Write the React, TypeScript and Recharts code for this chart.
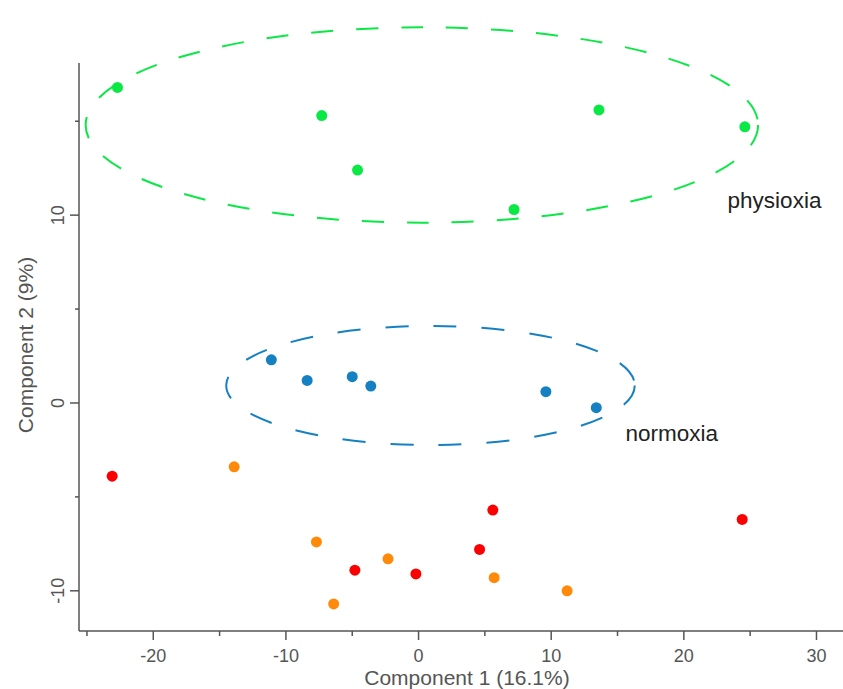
import { ReferenceArea, ReferenceDot, Scatter, ScatterChart, XAxis, YAxis } from 'recharts';

// Axis ticks every 5; only multiples of 10 get a number.
const X_TICKS = [-25, -20, -15, -10, -5, 0, 5, 10, 15, 20, 25, 30];
const Y_TICKS = [-10, -5, 0, 5, 10, 15];
const X_DOMAIN = [-25.6, 32.0];
const Y_DOMAIN = [-12.14, 18.1];

// Component scores, one pair of arrays per group.
const PHYSIOXIA_X = [-22.7, -7.3, -4.6, 7.2, 13.6, 24.6];
const PHYSIOXIA_Y = [16.8, 15.3, 12.4, 10.3, 15.6, 14.7];
const NORMOXIA_X = [-11.1, -8.4, -5.0, -3.6, 9.6, 13.4];
const NORMOXIA_Y = [2.3, 1.2, 1.4, 0.9, 0.6, -0.25];
const RED_X = [-23.1, -4.8, -0.2, 4.6, 5.6, 24.4];
const RED_Y = [-3.9, -8.9, -9.1, -7.8, -5.7, -6.2];
const ORANGE_X = [-13.9, -7.7, -6.4, -2.3, 5.7, 11.2];
const ORANGE_Y = [-3.4, -7.4, -10.7, -8.3, -9.3, -10.0];

// Group ellipses as bounding boxes in data units: [x1, x2, y1, y2].
const PHYSIOXIA_BOX = [-25.1, 25.6, 9.6, 20.0];
const NORMOXIA_BOX = [-14.5, 16.3, -2.24, 4.1];

// Group name tags: [x, y] of the left/middle of the text.
const PHYSIOXIA_TAG = [23.3, 10.8];
const NORMOXIA_TAG = [15.6, -1.6];

const GREEN = '#0ae845';
const BLUE = '#1580c2';
const RED = '#fa0000';
const ORANGE = '#ff8a0a';
const AXIS = '#555';
const FONT = '"Liberation Sans", Arial, sans-serif';

const zip = (xs: number[], ys: number[]) => xs.map((x, i) => ({ x, y: ys[i] }));

function Dot({ cx, cy, fill }: any) {
  return <circle cx={cx} cy={cy} r={5.5} fill={fill} />;
}

function XTick({ x, y, payload }: any) {
  const major = payload.value % 10 === 0;
  return (
    <g>
      <line x1={x} x2={x} y1={y} y2={y + (major ? 9 : 5)} stroke={AXIS} strokeWidth={1.5} />
      {major && (
        <text x={x} y={y + 25} textAnchor="middle" dominantBaseline="central" fill={AXIS} fontSize={18} fontFamily={FONT}>
          {payload.value}
        </text>
      )}
    </g>
  );
}

function YTick({ x, y, payload }: any) {
  const major = payload.value % 10 === 0;
  const tx = x - 21;
  return (
    <g>
      <line x1={x - (major ? 9 : 4)} x2={x} y1={y} y2={y} stroke={AXIS} strokeWidth={1.5} />
      {major && (
        <text
          x={tx}
          y={y}
          transform={`rotate(-90 ${tx} ${y})`}
          textAnchor="middle"
          dominantBaseline="central"
          fill={AXIS}
          fontSize={18}
          fontFamily={FONT}
        >
          {payload.value}
        </text>
      )}
    </g>
  );
}

function ellipse(color: string, dash: string) {
  return ({ x, y, width, height }: any) => (
    <ellipse
      cx={x + width / 2}
      cy={y + height / 2}
      rx={Math.abs(width) / 2}
      ry={Math.abs(height) / 2}
      fill="none"
      stroke={color}
      strokeWidth={2}
      strokeDasharray={dash}
    />
  );
}

function tag(text: string) {
  return ({ cx, cy }: any) => (
    <text x={cx} y={cy} dominantBaseline="central" fill="#222" fontSize={22.5} fontFamily={FONT}>
      {text}
    </text>
  );
}

export default function App() {
  return (
    <div style={{ position: 'absolute', left: 0, top: 0, background: '#fff' }}>
      <ScatterChart width={843} height={689} margin={{ top: 63, right: 0, bottom: 0, left: 0 }}>
        <XAxis
          type="number"
          dataKey="x"
          domain={X_DOMAIN}
          ticks={X_TICKS}
          allowDataOverflow
          height={58}
          tickSize={0}
          tickMargin={0}
          tickLine={false}
          tick={<XTick />}
          interval={0}
          axisLine={{ stroke: AXIS, strokeWidth: 1.5 }}
          label={{
            content: (p: any) => {
              const vb = p.viewBox || { x: 79, y: 631, width: 764, height: 58 };
              return (
                <text x={vb.x + vb.width / 2 + 6} y={vb.y + 46} textAnchor="middle" dominantBaseline="central" fill={AXIS} fontSize={21} fontFamily={FONT}>
                  Component 1 (16.1%)
                </text>
              );
            },
          }}
        />
        <YAxis
          type="number"
          dataKey="y"
          domain={Y_DOMAIN}
          ticks={Y_TICKS}
          allowDataOverflow
          width={79}
          tickSize={0}
          tickMargin={0}
          tickLine={false}
          tick={<YTick />}
          interval={0}
          axisLine={{ stroke: AXIS, strokeWidth: 1.5 }}
          label={{
            content: (p: any) => {
              const vb = p.viewBox || { x: 0, y: 63, width: 79, height: 568 };
              const cy = vb.y + vb.height / 2 - 2;
              return (
                <text x={25} y={cy} transform={`rotate(-90 25 ${cy})`} textAnchor="middle" dominantBaseline="central" fill={AXIS} fontSize={21} fontFamily={FONT}>
                  Component 2 (9%)
                </text>
              );
            },
          }}
        />
        <ReferenceArea
          x1={PHYSIOXIA_BOX[0]}
          x2={PHYSIOXIA_BOX[1]}
          y1={PHYSIOXIA_BOX[2]}
          y2={PHYSIOXIA_BOX[3]}
          ifOverflow="visible"
          shape={ellipse(GREEN, '22 23')}
        />
        <ReferenceArea
          x1={NORMOXIA_BOX[0]}
          x2={NORMOXIA_BOX[1]}
          y1={NORMOXIA_BOX[2]}
          y2={NORMOXIA_BOX[3]}
          ifOverflow="visible"
          shape={ellipse(BLUE, '23 25')}
        />
        <ReferenceDot x={PHYSIOXIA_TAG[0]} y={PHYSIOXIA_TAG[1]} r={0} ifOverflow="visible" shape={tag('physioxia')} />
        <ReferenceDot x={NORMOXIA_TAG[0]} y={NORMOXIA_TAG[1]} r={0} ifOverflow="visible" shape={tag('normoxia')} />
        <Scatter data={zip(PHYSIOXIA_X, PHYSIOXIA_Y)} fill={GREEN} shape={<Dot />} isAnimationActive={false} />
        <Scatter data={zip(NORMOXIA_X, NORMOXIA_Y)} fill={BLUE} shape={<Dot />} isAnimationActive={false} />
        <Scatter data={zip(RED_X, RED_Y)} fill={RED} shape={<Dot />} isAnimationActive={false} />
        <Scatter data={zip(ORANGE_X, ORANGE_Y)} fill={ORANGE} shape={<Dot />} isAnimationActive={false} />
      </ScatterChart>
    </div>
  );
}
